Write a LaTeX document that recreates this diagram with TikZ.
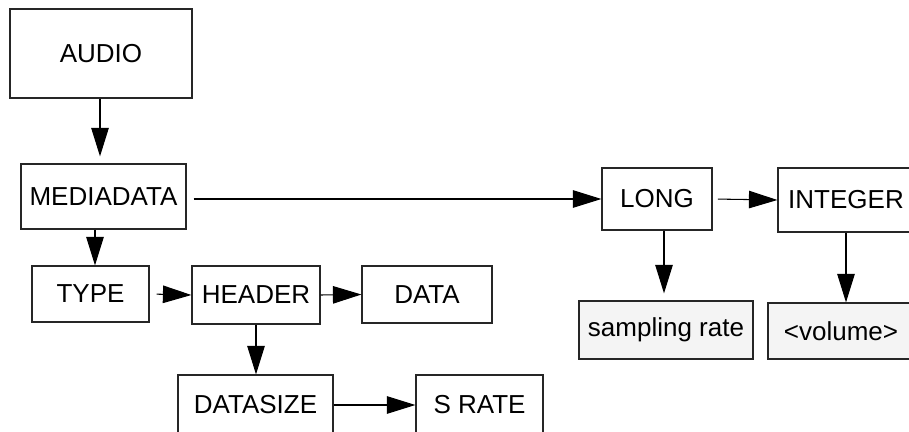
\documentclass[tikz,border=0pt]{standalone}
\usepackage{fontspec}
\setmainfont{Liberation Sans}
\usepackage{xcolor}
\definecolor{leafgrey}{HTML}{F4F4F4}
\usepackage{tikz}
\usetikzlibrary{arrows.meta,positioning,calc}

\begin{document}
\begin{tikzpicture}[
  x=0.02cm, y=-0.02cm,
  font=\fontsize{14.8pt}{17pt}\selectfont,
  box/.style={rectangle, draw=black!85, line width=0.7pt, fill=white, inner sep=0pt},
  leaf/.style={box, fill=leafgrey},
  arr/.style={-{Triangle[length=0.57cm, width=0.35cm]}, line width=0.6pt, black},
]
\clip (0,0) rectangle (909,432);

% ---------- left branch
\node[box, minimum width=3.64cm, minimum height=1.78cm] (audio) at (101,53.5) {AUDIO};
\node[box, minimum width=3.30cm, minimum height=1.30cm] (media) at (103.5,196.5) {MEDIADATA};
\node[box, minimum width=2.34cm, minimum height=1.12cm] (type) at (90.5,294) {TYPE};
\node[box, minimum width=2.56cm, minimum height=1.16cm] (header) at (256,295) {HEADER};
\node[box, minimum width=2.60cm, minimum height=1.14cm] (data) at (427,294.5) {DATA};
\node[box, minimum width=3.10cm, minimum height=1.20cm] (dsize) at (255.5,405) {DATASIZE};
\node[box, minimum width=2.54cm, minimum height=1.20cm] (srate) at (479.5,405) {S RATE};

% ---------- right branch
\node[box, minimum width=2.20cm, minimum height=1.24cm] (long) at (657,199) {LONG};
\node[box, minimum width=2.72cm, minimum height=1.28cm] (int) at (846,200) {INTEGER};
\node[leaf, minimum width=3.48cm, minimum height=1.16cm] (samp) at (666,330) {sampling rate};
\node[leaf, minimum width=2.92cm, minimum height=1.12cm] (vol) at (841,331) {<volume>};

% ---------- connectors
\draw[arr, shorten >=4] ([xshift=-0.02cm]audio.south) -- ([xshift=-0.02cm]audio.south |- media.north);
\draw[arr] ([xshift=0.09cm]type.north |- media.south) -- ([xshift=0.09cm]type.north);
\draw[arr, shorten <=4] (media.east |- long.west) -- (long.west);
\draw[arr, shorten <=3] (long.east) -- (int.west);
\draw[arr, shorten <=4] (type.east) -- (header.west);
\draw[arr] (header.east) -- (data.west);
\draw[arr] (header.south) -- (header.south |- dsize.north);
\draw[arr] (dsize.east) -- (srate.west);
\draw[arr, shorten >=4] ([xshift=-0.04cm]samp.north |- long.south) -- ([xshift=-0.04cm]samp.north);
\draw[arr] (int.south) -- (int.south |- vol.north);
\end{tikzpicture}
\end{document}
